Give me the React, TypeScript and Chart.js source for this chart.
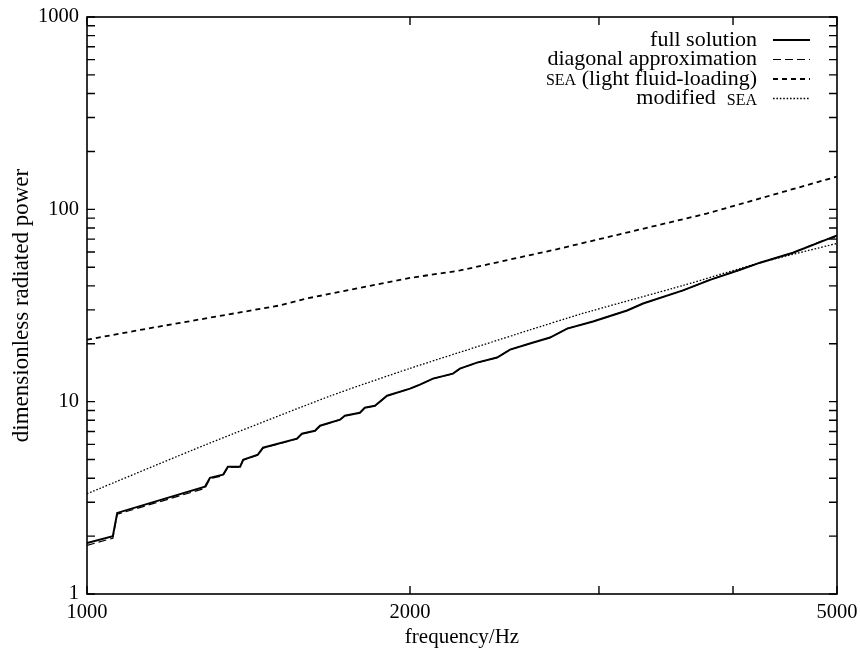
import React, { useEffect, useRef } from 'react';
import { Chart, registerables } from 'chart.js';

Chart.register(...registerables);

// ---- axis ticks ----
const xTickValues = [1000, 2000, 3000, 4000, 5000];
const xTickLabels = ['1000', '2000', '', '', '5000'];
const yTickValues = [1, 10, 100, 1000];
const yTickLabels = ['1', '10', '100', '1000'];
const yMinorTicks = [2, 3, 4, 5, 6, 7, 8, 9, 20, 30, 40, 50, 60, 70, 80, 90, 200, 300, 400, 500, 600, 700, 800, 900];

// ---- series ----
const fullFreq = [1000, 1057, 1067, 1288, 1302, 1339, 1353, 1389, 1398, 1443, 1459, 1569, 1586, 1631, 1649, 1721, 1739, 1796, 1815, 1855, 1904, 2000, 2043, 2101, 2193, 2226, 2309, 2411, 2479, 2587, 2701, 2802, 2962, 3187, 3298, 3593, 3807, 4061, 4239, 4549, 4894, 5000];
const fullPower = [1.84, 2.0, 2.64, 3.61, 4.02, 4.17, 4.59, 4.59, 4.99, 5.3, 5.76, 6.42, 6.81, 7.06, 7.5, 8.06, 8.45, 8.76, 9.3, 9.52, 10.74, 11.69, 12.27, 13.18, 13.99, 14.85, 15.96, 16.95, 18.66, 20.05, 21.54, 23.99, 26.1, 29.8, 32.4, 37.9, 43.0, 48.5, 52.8, 59.5, 69.8, 73.2];
const diagPower = [1.79, 1.95, 2.6, 3.54, 3.98, 4.12, 4.56, 4.57, 4.97, 5.28, 5.74, 6.4, 6.8, 7.05, 7.49, 8.05, 8.44, 8.75, 9.29, 9.51, 10.72, 11.68, 12.26, 13.17, 13.98, 14.84, 15.95, 16.94, 18.65, 20.04, 21.53, 23.98, 26.1, 29.8, 32.4, 37.9, 43.0, 48.5, 52.8, 59.5, 70.3, 71.5];

const seaFreq = [1000, 1125, 1510, 1603, 2000, 2227, 2740, 3780, 5000];
const seaPower = [21, 23.7, 31.6, 34.4, 44, 48.1, 62, 95, 148];

const modFreq = [1000, 1288, 1685, 2000, 2587, 2881, 3593, 4240, 5000];
const modPower = [3.32, 5.95, 10.7, 14.9, 23.6, 28.5, 40.2, 52.8, 66.5];

// ---- legend ----
type Seg = { t: string; small?: boolean };
const legendLabels: Seg[][] = [
  [{ t: 'full solution' }],
  [{ t: 'diagonal approximation' }],
  [{ t: 'SEA', small: true }, { t: ' (light fluid-loading)' }],
  [{ t: 'modified  ' }, { t: 'SEA', small: true }],
];

const FONT = '"Liberation Serif", "DejaVu Serif", serif';

const pts = (xs: number[], ys: number[]) => xs.map((x, i) => ({ x, y: ys[i] }));

const framePlugin = {
  id: 'frameTicksLegend',
  afterDatasetsDraw(chart: any) {
    const { ctx, chartArea: a, scales } = chart;
    ctx.save();
    ctx.strokeStyle = '#000';
    ctx.lineWidth = 1.6;
    ctx.strokeRect(a.left, a.top, a.right - a.left, a.bottom - a.top);
    ctx.lineWidth = 1.4;
    ctx.beginPath();
    for (const v of xTickValues) {
      const px = scales.x.getPixelForValue(v);
      ctx.moveTo(px, a.bottom);
      ctx.lineTo(px, a.bottom - 8);
      ctx.moveTo(px, a.top);
      ctx.lineTo(px, a.top + 8);
    }
    for (const v of [...yTickValues, ...yMinorTicks]) {
      const py = scales.y.getPixelForValue(v);
      ctx.moveTo(a.left, py);
      ctx.lineTo(a.left + 8, py);
      ctx.moveTo(a.right, py);
      ctx.lineTo(a.right - 8, py);
    }
    ctx.stroke();

    // legend
    const textRight = 757;
    const lineX0 = 773;
    const lineX1 = 810;
    const rowY0 = 40;
    const rowH = 19.5;
    ctx.fillStyle = '#000';
    ctx.textBaseline = 'middle';
    ctx.textAlign = 'left';
    legendLabels.forEach((segs, i) => {
      const y = rowY0 + i * rowH;
      const fonts = segs.map((s) => (s.small ? `16px ${FONT}` : `22px ${FONT}`));
      const widths = segs.map((s, k) => {
        ctx.font = fonts[k];
        return ctx.measureText(s.t).width;
      });
      let x = textRight - widths.reduce((p, c) => p + c, 0);
      segs.forEach((s, k) => {
        ctx.font = fonts[k];
        ctx.fillText(s.t, x, y + (s.small ? 2 : 0));
        x += widths[k];
      });
      const ds = chart.data.datasets[i];
      ctx.beginPath();
      ctx.lineWidth = ds.borderWidth;
      ctx.setLineDash(ds.borderDash || []);
      ctx.moveTo(lineX0, y);
      ctx.lineTo(lineX1, y);
      ctx.stroke();
      ctx.setLineDash([]);
    });
    ctx.restore();
  },
};

export default function App() {
  const ref = useRef<HTMLCanvasElement>(null);
  useEffect(() => {
    if (!ref.current) return;
    const chart = new Chart(ref.current, {
      type: 'line',
      data: {
        datasets: [
          { label: 'full solution', data: pts(fullFreq, fullPower), borderColor: '#000', borderWidth: 2, pointRadius: 0, tension: 0 },
          { label: 'diagonal approximation', data: pts(fullFreq, diagPower), borderColor: '#000', borderWidth: 1.2, borderDash: [8, 4], pointRadius: 0, tension: 0 },
          { label: 'SEA (light fluid-loading)', data: pts(seaFreq, seaPower), borderColor: '#000', borderWidth: 1.8, borderDash: [5, 4], pointRadius: 0, tension: 0 },
          { label: 'modified SEA', data: pts(modFreq, modPower), borderColor: '#000', borderWidth: 1.3, borderDash: [1.6, 1.8], pointRadius: 0, tension: 0.2 },
        ],
      },
      options: {
        animation: false,
        responsive: false,
        devicePixelRatio: 1,
        layout: { padding: { left: 0, right: 23, top: 17, bottom: 0 } },
        plugins: { legend: { display: false }, tooltip: { enabled: false } },
        scales: {
          x: {
            type: 'logarithmic',
            min: 1000,
            max: 5000,
            grid: { display: false, drawTicks: false, tickLength: 0 },
            border: { display: false },
            afterBuildTicks: (s: any) => {
              s.ticks = xTickValues.map((v) => ({ value: v }));
            },
            afterFit: (s: any) => {
              s.height = 58;
              s.paddingLeft = 0;
              s.paddingRight = 0;
            },
            ticks: {
              autoSkip: false,
              maxRotation: 0,
              padding: 6,
              color: '#000',
              font: { family: FONT, size: 20.5 },
              callback: (v: any) => {
                const i = xTickValues.indexOf(Number(v));
                return i >= 0 ? xTickLabels[i] : '';
              },
            },
            title: { display: true, text: 'frequency/Hz', color: '#000', font: { family: FONT, size: 21 }, padding: { top: 0, bottom: 1.5 } },
          },
          y: {
            type: 'logarithmic',
            min: 1,
            max: 1000,
            grid: { display: false, drawTicks: false, tickLength: 0 },
            border: { display: false },
            afterBuildTicks: (s: any) => {
              s.ticks = yTickValues.map((v) => ({ value: v }));
            },
            afterFit: (s: any) => {
              s.width = 87;
              s.paddingTop = 0;
              s.paddingBottom = 0;
            },
            ticks: {
              autoSkip: false,
              padding: 8,
              color: '#000',
              font: { family: FONT, size: 20.5 },
              callback: (v: any) => {
                const i = yTickValues.indexOf(Number(v));
                return i >= 0 ? yTickLabels[i] : '';
              },
            },
            title: { display: true, text: 'dimensionless radiated power', color: '#000', font: { family: FONT, size: 23 }, padding: { top: 8, bottom: 0 } },
          },
        },
      },
      plugins: [framePlugin],
    } as any);
    return () => chart.destroy();
  }, []);
  return (
    <div style={{ position: 'absolute', left: 0, top: 0, width: 860, height: 652, background: '#fff' }}>
      <canvas ref={ref} width={860} height={652} style={{ display: 'block' }} />
    </div>
  );
}
